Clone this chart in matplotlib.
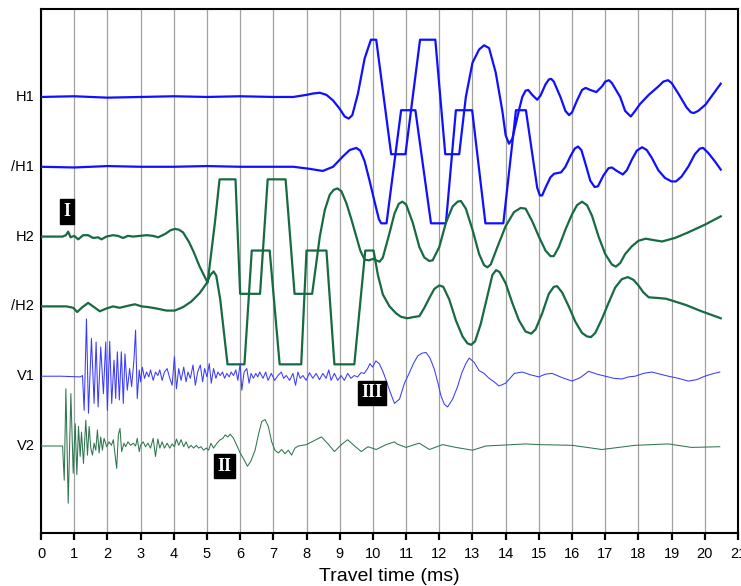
import numpy as np
import matplotlib
matplotlib.use("Agg")
import matplotlib.pyplot as plt

plt.rcParams['font.family'] = ['Liberation Sans', 'DejaVu Sans']

# trace names, top to bottom
names = ["H1", "/H1", "H2", "/H2", "V1", "V2"]

# time (ms), amplitude (trace spacing = 1)
h1_t = [0, 1, 2, 3, 4, 5, 6, 7, 7.6, 8.0, 8.2, 8.4, 8.6, 8.8, 9.0, 9.15, 9.27, 9.38, 9.55,
        9.75, 9.94, 10.1, 10.55, 10.98, 11.42, 11.88, 12.18, 12.6, 12.8, 13.0, 13.2, 13.35,
        13.5, 13.7, 13.9, 14.0, 14.1, 14.2, 14.3, 14.4, 14.5, 14.6, 14.68, 14.8, 14.95,
        15.05, 15.2, 15.3, 15.37, 15.45, 15.65, 15.8, 15.91, 16.0, 16.15, 16.3, 16.41,
        16.55, 16.73, 16.9, 17.0, 17.11, 17.2, 17.45, 17.6, 17.77, 17.9, 18.05, 18.31,
        18.6, 18.75, 18.89, 19.0, 19.2, 19.45, 19.58, 19.67, 19.8, 20.02, 20.25, 20.48]
h1_a = [0, 0.01, -0.01, 0.0, 0.01, 0, 0.01, 0, 0.0, 0.03, 0.05, 0.06, 0.03, -0.05, -0.17,
        -0.28, -0.31, -0.26, 0.05, 0.55, 0.82, 0.82, -0.82, -0.82, 0.82, 0.82, -0.82,
        -0.82, 0.0, 0.49, 0.68, 0.74, 0.7, 0.35, -0.2, -0.55, -0.67, -0.6, -0.4, -0.19,
        0.0, 0.09, 0.1, 0.03, -0.04, 0.02, 0.18, 0.25, 0.26, 0.22, 0.0, -0.2, -0.26, -0.22,
        -0.05, 0.1, 0.13, 0.1, 0.07, 0.15, 0.22, 0.24, 0.2, 0.0, -0.2, -0.28, -0.2, -0.1,
        0.03, 0.15, 0.22, 0.24, 0.2, 0.05, -0.15, -0.22, -0.23, -0.2, -0.11, 0.04, 0.19]

ih1_t = [0, 1, 2, 3, 4, 5, 6, 7, 7.6, 8.1, 8.49, 8.8, 9.1, 9.3, 9.5, 9.62, 9.75, 9.9,
         10.05, 10.18, 10.25, 10.41, 10.85, 11.28, 11.75, 12.2, 12.5, 12.99, 13.39, 13.93,
         14.31, 14.61, 14.95, 15.03, 15.1, 15.2, 15.35, 15.46, 15.67, 15.8, 15.95, 16.08,
         16.18, 16.28, 16.4, 16.55, 16.68, 16.78, 16.95, 17.1, 17.2, 17.35, 17.53, 17.65,
         17.8, 17.95, 18.11, 18.25, 18.4, 18.6, 18.8, 19.0, 19.13, 19.3, 19.5, 19.7, 19.85,
         19.95, 20.1, 20.3, 20.48]
ih1_a = [0, -0.01, 0.01, 0, 0, 0.01, 0, 0, 0, -0.03, -0.06, 0.0, 0.15, 0.24, 0.27, 0.23,
         0.08, -0.2, -0.5, -0.75, -0.81, -0.81, 0.81, 0.81, -0.81, -0.81, 0.81, 0.81, -0.81,
         -0.81, 0.81, 0.81, -0.3, -0.41, -0.41, -0.3, -0.15, -0.1, -0.08, 0.0, 0.15, 0.26,
         0.29, 0.24, 0.05, -0.2, -0.29, -0.28, -0.12, -0.02, -0.01, -0.06, -0.11, -0.05,
         0.1, 0.23, 0.28, 0.24, 0.13, -0.05, -0.16, -0.21, -0.21, -0.14, 0.0, 0.18, 0.26,
         0.27, 0.2, 0.08, -0.04]

h2_t = [0, 0.65, 0.75, 0.82, 0.89, 1.0, 1.12, 1.27, 1.42, 1.57, 1.72, 1.82, 1.97, 2.17,
        2.32, 2.47, 2.62, 2.78, 2.98, 3.18, 3.38, 3.53, 3.75, 3.9, 4.03, 4.15, 4.28, 4.45,
        4.6, 4.78, 5.02, 5.13, 5.24, 5.38, 5.86, 6.0, 6.6, 6.83, 7.37, 7.64, 8.17, 8.4,
        8.55, 8.7, 8.82, 8.93, 9.05, 9.2, 9.35, 9.5, 9.62, 9.75, 9.88, 10.0, 10.1, 10.2,
        10.3, 10.5, 10.65, 10.78, 10.89, 11.0, 11.2, 11.4, 11.55, 11.7, 11.8, 12.0, 12.2,
        12.4, 12.55, 12.65, 12.8, 13.0, 13.2, 13.35, 13.45, 13.55, 13.75, 14.0, 14.25,
        14.45, 14.6, 14.8, 15.0, 15.2, 15.35, 15.45, 15.6, 15.8, 16.0, 16.15, 16.3, 16.45,
        16.6, 16.8, 17.0, 17.2, 17.32, 17.45, 17.6, 17.8, 18.0, 18.22, 18.45, 18.71, 19.1,
        19.5, 20.0, 20.48]
h2_a = [0, 0.0, 0.02, 0.07, -0.01, 0.01, -0.04, 0.02, 0.02, -0.02, -0.01, -0.04, 0.0, 0.02,
        0.01, -0.02, 0.01, 0.0, 0.01, 0.02, 0.01, -0.01, 0.04, 0.09, 0.11, 0.1, 0.06,
        -0.07, -0.22, -0.43, -0.66, -0.23, 0.2, 0.82, 0.82, -0.82, -0.82, 0.82, 0.82, -0.82,
        -0.82, 0.0, 0.38, 0.6, 0.67, 0.69, 0.65, 0.48, 0.25, 0.0, -0.2, -0.33, -0.34,
        -0.32, -0.34, -0.36, -0.3, 0.05, 0.33, 0.47, 0.5, 0.46, 0.2, -0.15, -0.3, -0.35,
        -0.34, -0.15, 0.2, 0.43, 0.5, 0.51, 0.4, 0.1, -0.25, -0.41, -0.44, -0.4, -0.15,
        0.15, 0.35, 0.41, 0.4, 0.22, 0.0, -0.2, -0.28, -0.28, -0.15, 0.1, 0.32, 0.45, 0.5,
        0.45, 0.3, 0.0, -0.25, -0.4, -0.43, -0.38, -0.25, -0.14, -0.06, -0.03, -0.05,
        -0.07, -0.02, 0.06, 0.17, 0.29]

ih2_t = [0, 0.77, 0.97, 1.09, 1.25, 1.42, 1.57, 1.77, 1.97, 2.17, 2.37, 2.63, 2.83, 3.03,
         3.23, 3.48, 3.78, 4.03, 4.28, 4.53, 4.78, 4.99, 5.1, 5.2, 5.28, 5.4, 5.62, 6.13,
         6.35, 6.89, 7.19, 7.84, 8.0, 8.6, 8.84, 9.44, 9.77, 10.02, 10.15, 10.3, 10.5, 10.7,
         10.85, 11.04, 11.25, 11.4, 11.55, 11.7, 11.85, 12.0, 12.12, 12.3, 12.5, 12.7,
         12.85, 12.96, 13.08, 13.25, 13.45, 13.6, 13.71, 13.82, 14.0, 14.2, 14.4, 14.6,
         14.77, 14.9, 15.1, 15.3, 15.45, 15.55, 15.7, 15.9, 16.1, 16.3, 16.45, 16.57, 16.7,
         16.9, 17.1, 17.3, 17.5, 17.68, 17.85, 18.0, 18.15, 18.31, 18.6, 18.83, 19.1, 19.43,
         19.9, 20.48]
ih2_a = [0, 0.0, -0.02, -0.08, -0.01, 0.05, 0.0, -0.07, -0.03, 0.0, -0.02, 0.01, 0.03, 0.0,
         -0.01, -0.03, -0.06, -0.06, -0.01, 0.07, 0.19, 0.33, 0.45, 0.5, 0.44, 0.1, -0.83,
         -0.83, 0.8, 0.8, -0.83, -0.83, 0.8, 0.8, -0.83, -0.83, 0.8, 0.8, 0.45, 0.17, 0.0,
         -0.1, -0.15, -0.17, -0.15, -0.14, -0.02, 0.12, 0.25, 0.3, 0.28, 0.1, -0.2, -0.43,
         -0.53, -0.55, -0.5, -0.25, 0.15, 0.45, 0.52, 0.49, 0.33, 0.05, -0.2, -0.36, -0.39,
         -0.33, -0.1, 0.18, 0.28, 0.29, 0.2, 0.0, -0.22, -0.38, -0.43, -0.44, -0.38, -0.18,
         0.05, 0.27, 0.39, 0.42, 0.38, 0.3, 0.2, 0.13, 0.12, 0.11, 0.07, 0.02, -0.07, -0.17]

v1_t = [0, 0.6, 1.18, 1.25, 1.3, 1.37, 1.43, 1.52, 1.6, 1.66, 1.72, 1.8, 1.88, 1.95, 2.0,
        2.07, 2.13, 2.2, 2.25, 2.3, 2.36, 2.42, 2.48, 2.53, 2.6, 2.67, 2.73, 2.8, 2.85, 2.9,
        2.96, 3.0, 3.05, 3.12, 3.18, 3.25, 3.3, 3.38, 3.45, 3.52, 3.58, 3.65, 3.72, 3.8,
        3.88, 3.95, 4.02, 4.08, 4.15, 4.22, 4.3, 4.37, 4.43, 4.5, 4.58, 4.65, 4.72, 4.8,
        4.87, 4.93, 5.0, 5.07, 5.13, 5.2, 5.27, 5.33, 5.4, 5.47, 5.53, 5.6, 5.67, 5.73,
        5.8, 5.87, 5.93, 6.0, 6.05, 6.12, 6.2, 6.27, 6.33, 6.4, 6.47, 6.53, 6.59, 6.69,
        6.77, 6.84, 6.94, 7.04, 7.14, 7.24, 7.31, 7.39, 7.49, 7.59, 7.67, 7.74, 7.81, 7.89,
        7.99, 8.09, 8.19, 8.29, 8.39, 8.49, 8.59, 8.67, 8.74, 8.84, 8.94, 9.04, 9.14, 9.24,
        9.34, 9.44, 9.54, 9.64, 9.74, 9.84, 9.91, 9.99, 10.09, 10.19, 10.3, 10.4, 10.5,
        10.65, 10.72, 10.8, 10.95, 11.1, 11.22, 11.35, 11.48, 11.6, 11.72, 11.85, 11.95,
        12.05, 12.15, 12.25, 12.4, 12.55, 12.68, 12.8, 12.9, 13.05, 13.2, 13.35, 13.5,
        13.65, 13.8, 14.0, 14.26, 14.5, 14.75, 15.0, 15.2, 15.4, 15.7, 16.0, 16.25, 16.5,
        16.75, 17.0, 17.25, 17.5, 17.7, 17.9, 18.15, 18.4, 18.65, 18.9, 19.2, 19.5, 19.75,
        20.0, 20.2, 20.45]
v1_a = [0.0, 0.0, -0.01, 0.01, -0.49, 0.82, -0.53, 0.54, -0.39, 0.49, -0.44, 0.42, -0.25,
        0.49, -0.49, 0.5, -0.39, 0.23, -0.32, 0.35, -0.34, 0.35, -0.39, 0.32, -0.2, 0.11,
        -0.15, 0.23, 0.66, -0.32, 0.09, -0.08, 0.13, -0.03, 0.06, -0.01, 0.09, -0.06, 0.06,
        0.01, 0.09, -0.06, 0.06, 0.11, -0.03, -0.13, 0.28, -0.18, 0.11, -0.06, 0.13, -0.08,
        0.06, -0.03, 0.16, -0.13, 0.06, 0.16, -0.08, 0.11, -0.01, 0.18, -0.1, 0.11, -0.03,
        0.06, 0.01, 0.06, -0.03, 0.04, -0.01, 0.06, 0.01, 0.09, -0.06, 0.18, -0.2, 0.06,
        0.11, -0.1, 0.04, -0.03, 0.04, -0.01, 0.06, -0.03, 0.06, -0.06, 0.04, -0.06, 0.01,
        0.06, -0.03, 0.01, -0.06, 0.04, -0.13, 0.06, -0.03, 0.01, -0.06, 0.05, -0.03, 0.04,
        -0.05, 0.04, -0.03, 0.09, -0.06, 0.04, -0.06, 0.01, -0.06, 0.04, -0.03, 0.01, -0.01,
        0.05, 0.04, 0.11, 0.18, 0.13, 0.22, 0.18, 0.07, -0.06, -0.2, -0.39, -0.36, -0.33,
        -0.1, 0.05, 0.18, 0.29, 0.33, 0.34, 0.26, 0.1, -0.08, -0.28, -0.4, -0.44, -0.33,
        -0.15, 0.05, 0.18, 0.26, 0.2, 0.08, 0.04, -0.03, -0.08, -0.14, -0.1, 0.04, 0.06,
        0.02, -0.01, 0.03, 0.04, -0.02, -0.07, -0.02, 0.07, 0.03, 0.0, -0.03, -0.04, -0.01,
        0.0, 0.04, 0.06, 0.03, 0.0, -0.03, -0.07, -0.05, 0.0, 0.03, 0.06]

v2_t = [0, 0.65, 0.7, 0.75, 0.82, 0.9, 0.97, 1.03, 1.08, 1.13, 1.18, 1.22, 1.28, 1.35,
        1.4, 1.45, 1.5, 1.55, 1.6, 1.65, 1.7, 1.75, 1.8, 1.85, 1.9, 1.98, 2.05, 2.12, 2.18,
        2.22, 2.28, 2.33, 2.38, 2.43, 2.5, 2.55, 2.62, 2.7, 2.78, 2.85, 2.9, 2.96, 3.0,
        3.08, 3.15, 3.22, 3.3, 3.38, 3.45, 3.52, 3.58, 3.65, 3.72, 3.8, 3.88, 3.95, 4.02,
        4.08, 4.15, 4.22, 4.3, 4.37, 4.45, 4.52, 4.6, 4.68, 4.75, 4.82, 4.9, 4.98, 5.05,
        5.12, 5.2, 5.3, 5.4, 5.48, 5.55, 5.63, 5.7, 5.8, 5.9, 6.0, 6.1, 6.22, 6.32, 6.45,
        6.55, 6.65, 6.75, 6.85, 6.95, 7.05, 7.15, 7.25, 7.35, 7.45, 7.55, 7.65, 7.75, 8.0,
        8.2, 8.45, 8.65, 8.84, 9.05, 9.24, 9.45, 9.65, 9.85, 10.1, 10.4, 10.65, 10.72,
        11.0, 11.25, 11.4, 11.7, 12.1, 12.5, 13.0, 13.4, 13.8, 14.6, 15.0, 16.0, 16.9, 17.9,
        18.9, 19.6, 20.45]
v2_a = [0, 0, -0.49, 0.82, -0.82, 0.75, -0.39, 0.32, -0.41, 0.28, -0.15, 0.2, -0.25, 0.37,
        -0.13, 0.28, -0.03, -0.13, 0.04, -0.06, 0.23, -0.1, 0.13, -0.06, 0.11, -0.01, 0.06,
        0.01, 0.09, -0.08, -0.32, 0.16, 0.25, -0.08, 0.04, -0.01, 0.06, 0.01, 0.04, 0.0,
        0.11, -0.08, 0.01, 0.06, -0.01, 0.04, -0.03, 0.11, -0.15, 0.1, -0.03, 0.06, -0.03,
        0.04, -0.03, 0.03, -0.01, 0.1, 0.01, 0.09, -0.01, 0.06, -0.03, 0.01, -0.03, 0.01,
        -0.03, -0.01, -0.06, -0.03, -0.06, 0.04, -0.03, 0.04, 0.09, 0.11, 0.16, 0.13, 0.17,
        0.11, 0.01, -0.1, -0.18, -0.29, -0.22, -0.06, 0.16, 0.35, 0.38, 0.28, 0.06, -0.06,
        -0.1, -0.05, -0.11, -0.06, -0.13, -0.03, 0.0, 0.02, 0.07, 0.13, 0.03, -0.08, 0.02,
        0.09, 0.0, -0.08, -0.01, -0.05, 0.02, 0.06, 0.03, -0.02, 0.02, 0.04, -0.05, 0.02,
        -0.02, -0.06, 0.0, 0.01, 0.03, 0.02, 0.01, -0.05, 0.01, 0.03, -0.02, -0.01]

# event markers: label, time, trace index, offset from trace
marks = [("I", 0.78, 2, 0.36), ("II", 5.53, 5, -0.29), ("III", 9.98, 4, -0.24)]

traces = [(h1_t, h1_a), (ih1_t, ih1_a), (h2_t, h2_a), (ih2_t, ih2_a), (v1_t, v1_a), (v2_t, v2_a)]
colors = ["#1010ff", "#1010ff", "#186a42", "#186a42", "#3a3aff", "#2f7550"]
widths = [1.6, 1.6, 1.6, 1.6, 0.75, 0.75]
offsets = [6, 5, 4, 3, 2, 1]

fig = plt.figure(figsize=(7.41, 5.86), dpi=100)
ax = fig.add_axes([41 / 741, 53 / 586, 697 / 741, 524 / 586])

for i in range(len(traces)):
    t, a = traces[i]
    ax.plot(t, offsets[i] + np.array(a), color=colors[i], lw=widths[i], zorder=3)
    ax.text(-0.2, offsets[i], names[i], ha='right', va='center', fontsize=10.5)

for lab, t, k, dy in marks:
    ax.text(t, offsets[k] + dy, lab, ha='center', va='center', color='white',
            fontsize=13, fontweight='bold', family='Liberation Serif', zorder=5,
            bbox=dict(boxstyle='square,pad=0.2', fc='black', ec='black'))

ax.set_xlim(0, 21)
ax.set_ylim(-0.246, 7.26)
ax.set_xticks(range(22))
ax.set_xticklabels([str(i) for i in range(22)], fontsize=10.5)
ax.set_yticks([])
ax.grid(axis='x', color='#a0a0a0', lw=0.9, zorder=0)
ax.tick_params(axis='x', direction='out', length=5, width=1.6, pad=5)
for s in ax.spines.values():
    s.set_linewidth(1.5)
ax.set_xlabel("Travel time (ms)", fontsize=14, labelpad=5)

fig.savefig("out.png", dpi=100)
